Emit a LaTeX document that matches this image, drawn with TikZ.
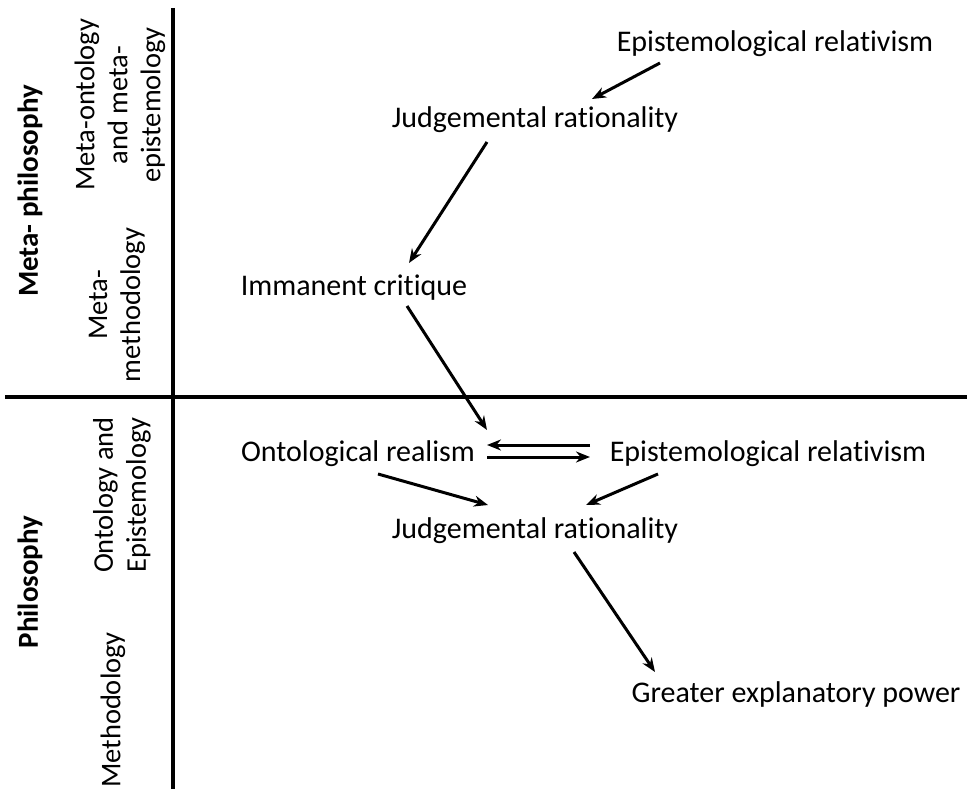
\documentclass[tikz,border=0pt]{standalone}
\usepackage{fontspec}
\setmainfont{Carlito}[Ligatures={NoCommon,NoDiscretionary,NoContextual}]
\usetikzlibrary{arrows.meta}
\begin{document}
\begin{tikzpicture}[x=1pt,y=-1pt,
  concept/.style={anchor=base,inner sep=0pt,font=\fontsize{30}{36}\selectfont},
  rowhead/.style={rotate=90,inner sep=0pt,align=center,font=\bfseries\fontsize{29}{34}\selectfont},
  subhead/.style={rotate=90,inner sep=0pt,align=center,font=\fontsize{28.5}{33}\selectfont},
  axis/.style={line width=3.2pt},
  arr/.style={line width=3pt,-{Stealth[length=14pt,width=11pt]}}]
\useasboundingbox (0,0) rectangle (967,789);

% axes of the table
\draw[axis] (173,8) -- (173,789);
\draw[axis] (5,397) -- (967,397);

% row and sub-row headings
\node[rowhead] (mphil) at (30,191) {Meta- philosophy};
\node[subhead] (mont) at (120,105) {Meta-ontology\\and meta-\\epistemology};
\node[subhead] (mmeth) at (117,305) {Meta-\\methodology};
\node[rowhead] (phil) at (30,582) {Philosophy};
\node[subhead] (onto) at (122,495) {Ontology and\\Epistemology};
\node[subhead] (meth) at (113,710) {Methodology};

% concepts
\node[concept] (E1) at (775,52) {Epistemological relativism};
\node[concept] (J1) at (535,128) {Judgemental rationality};
\node[concept] (IC) at (354,295) {Immanent critique};
\node[concept] (OR) at (358,461) {Ontological realism};
\node[concept] (E2) at (768,461) {Epistemological relativism};
\node[concept] (J2) at (535,538) {Judgemental rationality};
\node[concept] (G) at (796,702) {Greater explanatory power};

% connectors
\draw[arr] ([shift={(-115,11)}]E1.base) -- ([shift={(57,-29)}]J1.base);
\draw[arr] ([shift={(-48,14)}]J1.base) -- ([shift={(55,-32)}]IC.base);
\draw[arr] ([shift={(53,11)}]IC.base) -- ([shift={(129,-31)}]OR.base);
\draw[arr] ([shift={(-178,-16)}]E2.base) -- ([shift={(129,-16)}]OR.base);
\draw[arr] ([shift={(129,-4)}]OR.base) -- ([shift={(-178,-4)}]E2.base);
\draw[arr] ([shift={(20,13)}]OR.base) -- ([shift={(-47,-33)}]J2.base);
\draw[arr] ([shift={(-110,13)}]E2.base) -- ([shift={(51,-33)}]J2.base);
\draw[arr] ([shift={(39,14)}]J2.base) -- ([shift={(-141,-30)}]G.base);
\end{tikzpicture}
\end{document}
